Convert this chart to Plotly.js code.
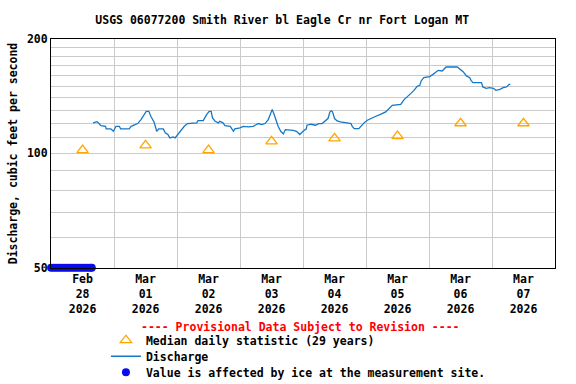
<!DOCTYPE html>
<html><head><meta charset="utf-8">
<script src="https://cdn.plot.ly/plotly-3.0.1.min.js"></script>
<style>html,body{margin:0;padding:0;background:#fff}#chart{width:576px;height:384px}</style>
</head><body><div id="chart"></div>
<script>
const dischargeTimes = [
'2026-02-28 16:00','2026-02-28 17:30','2026-02-28 18:15','2026-02-28 19:00','2026-02-28 20:45','2026-02-28 21:00','2026-02-28 22:45','2026-02-28 23:45',
'2026-03-01 00:45','2026-03-01 02:00','2026-03-01 02:30','2026-03-01 05:45','2026-03-01 06:30','2026-03-01 09:00','2026-03-01 10:15','2026-03-01 11:30','2026-03-01 12:15','2026-03-01 13:15','2026-03-01 14:00','2026-03-01 15:15','2026-03-01 16:15','2026-03-01 17:00','2026-03-01 18:45','2026-03-01 19:30','2026-03-01 20:30','2026-03-01 21:15','2026-03-01 22:30','2026-03-01 23:15',
'2026-03-02 00:15','2026-03-02 01:30','2026-03-02 02:45','2026-03-02 04:00','2026-03-02 05:45','2026-03-02 07:30','2026-03-02 08:00','2026-03-02 10:00','2026-03-02 11:15','2026-03-02 12:15','2026-03-02 13:00','2026-03-02 13:30','2026-03-02 14:30','2026-03-02 15:45','2026-03-02 16:15','2026-03-02 17:30','2026-03-02 18:15','2026-03-02 20:15','2026-03-02 21:30','2026-03-02 22:00',
'2026-03-03 00:00','2026-03-03 01:15','2026-03-03 03:15','2026-03-03 05:00','2026-03-03 07:00','2026-03-03 08:15','2026-03-03 09:30','2026-03-03 10:45','2026-03-03 11:45','2026-03-03 12:15','2026-03-03 13:00','2026-03-03 13:45','2026-03-03 14:30','2026-03-03 15:30','2026-03-03 16:30','2026-03-03 17:15','2026-03-03 19:00','2026-03-03 20:15','2026-03-03 21:30','2026-03-03 22:45',
'2026-03-04 00:00','2026-03-04 01:15','2026-03-04 01:30','2026-03-04 03:00','2026-03-04 04:45','2026-03-04 06:00','2026-03-04 07:15','2026-03-04 08:30','2026-03-04 09:30','2026-03-04 10:15','2026-03-04 10:45','2026-03-04 11:15','2026-03-04 12:00','2026-03-04 13:00','2026-03-04 14:15','2026-03-04 16:45','2026-03-04 18:15','2026-03-04 18:45','2026-03-04 19:30','2026-03-04 21:15','2026-03-04 22:15','2026-03-04 23:15',
'2026-03-05 00:30','2026-03-05 01:45','2026-03-05 03:45','2026-03-05 05:30','2026-03-05 07:30','2026-03-05 10:00','2026-03-05 13:15','2026-03-05 14:30','2026-03-05 15:45','2026-03-05 17:00','2026-03-05 18:15','2026-03-05 19:30','2026-03-05 20:30','2026-03-05 21:00','2026-03-05 22:00',
'2026-03-06 00:15','2026-03-06 01:30','2026-03-06 02:30','2026-03-06 03:30','2026-03-06 05:00','2026-03-06 06:00','2026-03-06 06:30','2026-03-06 10:45','2026-03-06 11:45','2026-03-06 13:00','2026-03-06 14:15','2026-03-06 15:30','2026-03-06 16:00','2026-03-06 16:45','2026-03-06 20:00','2026-03-06 20:30','2026-03-06 21:45','2026-03-06 23:00',
'2026-03-07 00:30','2026-03-07 01:30','2026-03-07 03:00','2026-03-07 04:15','2026-03-07 05:30','2026-03-07 06:30','2026-03-07 07:00'
];
const dischargeValues = [
120.3,121.2,119.8,118.3,117.8,116.0,116.0,114.3,
117.8,117.8,116.0,116.0,117.8,119.8,122.7,126.5,129.0,129.0,125.2,120.7,114.3,116.0,116.0,113.2,112.1,109.8,110.5,109.8,
112.1,114.3,117.8,119.8,120.3,120.3,122.0,122.0,126.5,129.0,129.0,124.0,121.5,120.3,121.5,120.3,118.3,117.8,114.3,116.0,
116.7,117.8,117.4,117.8,119.8,119.1,119.8,122.7,127.8,130.4,126.5,121.5,117.8,114.3,112.5,115.5,115.5,115.0,114.3,112.1,
114.3,116.0,118.6,119.3,118.6,119.8,119.8,122.2,123.5,128.6,129.4,128.6,123.5,121.7,121.0,120.3,119.8,117.8,116.2,116.2,118.6,120.3,
122.2,123.5,125.2,126.7,128.6,133.8,134.6,138.5,140.8,143.6,146.5,150.1,151.0,155.1,158.2,
159.2,161.4,163.1,165.4,164.8,167.4,168.8,168.8,166.4,164.1,159.9,158.2,155.7,153.5,153.5,149.6,148.3,148.9,
148.3,146.5,147.4,148.9,149.6,151.9,151.9
];
const medianDays = ['2026-02-28 12:00','2026-03-01 12:00','2026-03-02 12:00','2026-03-03 12:00','2026-03-04 12:00','2026-03-05 12:00','2026-03-06 12:00','2026-03-07 12:00'];
const medianValues = [102, 105, 102, 107.5, 109.5, 111, 120, 120];
const iceTimes = ['2026-02-28 00:00','2026-02-28 01:00','2026-02-28 02:00','2026-02-28 03:00','2026-02-28 04:00','2026-02-28 05:00','2026-02-28 06:00','2026-02-28 07:00','2026-02-28 08:00','2026-02-28 09:00','2026-02-28 10:00','2026-02-28 11:00','2026-02-28 12:00','2026-02-28 13:00','2026-02-28 14:00','2026-02-28 15:00','2026-02-28 15:30'];
const iceValues = [50,50,50,50,50,50,50,50,50,50,50,50,50,50,50,50,50];
const xTickVals = medianDays;
const xTickText = ['Feb<br>28<br>2026','Mar<br>01<br>2026','Mar<br>02<br>2026','Mar<br>03<br>2026','Mar<br>04<br>2026','Mar<br>05<br>2026','Mar<br>06<br>2026','Mar<br>07<br>2026'];
const dayGrid = ['2026-03-01','2026-03-02','2026-03-03','2026-03-04','2026-03-05','2026-03-06','2026-03-07'];
const yTickVals = [50, 100, 200];
const yTickText = ['50', '100', '200'];
const yMinorVals = [60,70,80,90,110,120,130,140,150,160,170,180,190];

const FONT = {family: 'DejaVu Sans Mono, monospace', size: 11.5, weight: 'bold', color: '#000'};

const traces = [
  {x: medianDays, y: medianValues, type: 'scatter', mode: 'markers', name: 'Median daily statistic (29 years)',
   legend: 'legend',
   marker: {symbol: 'triangle-up-open', size: 10, color: '#FFA500', line: {width: 1.3, color: '#FFA500'}}},
  {x: dischargeTimes, y: dischargeValues, type: 'scatter', mode: 'lines', name: 'Discharge',
   legend: 'legend2',
   line: {color: '#1478c8', width: 1.3}},
  {x: iceTimes, y: iceValues, type: 'scatter', mode: 'markers', name: 'Value is affected by ice at the measurement site.',
   legend: 'legend3',
   cliponaxis: false, marker: {symbol: 'circle', size: 8, color: '#0a0af0'}}
];

const legendBase = {x: 0.109, xanchor: 'left', yanchor: 'top', xref: 'paper', yref: 'paper',
                    font: FONT, bgcolor: 'rgba(0,0,0,0)', itemwidth: 30};

const layout = {
  width: 576, height: 384,
  margin: {l: 51, r: 21, t: 39, b: 116, autoexpand: false},
  paper_bgcolor: '#fff', plot_bgcolor: '#fff',
  font: FONT,
  title: {text: 'USGS 06077200 Smith River bl Eagle Cr nr Fort Logan MT', font: FONT,
          xref: 'container', x: 0.49, xanchor: 'center', yref: 'container', y: 0.948, yanchor: 'middle'},
  xaxis: {type: 'date', range: ['2026-02-27 23:58', '2026-03-08 00:00'],
          tickmode: 'array', tickvals: xTickVals, ticktext: xTickText, ticks: '',
          showgrid: false, zeroline: false, showline: true, linecolor: '#000', linewidth: 1, mirror: true,
          tickfont: FONT, automargin: false,
          minor: {tickmode: 'array', tickvals: dayGrid, showgrid: true, gridcolor: '#cacaca', gridwidth: 1, ticks: ''}},
  yaxis: {type: 'log', range: [Math.log10(50) - 0.0008, Math.log10(200)],
          tickmode: 'array', tickvals: yTickVals, ticktext: yTickText, ticks: '',
          showgrid: true, gridcolor: '#cacaca', gridwidth: 1, zeroline: false,
          showline: true, linecolor: '#000', linewidth: 1, mirror: true, tickfont: FONT, automargin: false,
          title: {text: 'Discharge, cubic feet per second', font: FONT, standoff: 6},
          minor: {tickmode: 'array', tickvals: yMinorVals, showgrid: true, gridcolor: '#cacaca', gridwidth: 1, ticks: ''}},
  showlegend: true,
  legend: Object.assign({}, legendBase, {y: -0.252}),
  legend2: Object.assign({}, legendBase, {y: -0.322}),
  legend3: Object.assign({}, legendBase, {y: -0.392}),
  annotations: [
    {text: '---- Provisional Data Subject to Revision ----', xref: 'paper', yref: 'paper', x: 0.496, y: -0.256,
     xanchor: 'center', yanchor: 'middle', showarrow: false,
     font: {family: FONT.family, size: 11.5, weight: 'bold', color: '#ff0000'}}
  ]
};

Plotly.newPlot('chart', traces, layout, {displayModeBar: false, staticPlot: true});
</script>
</body></html>
